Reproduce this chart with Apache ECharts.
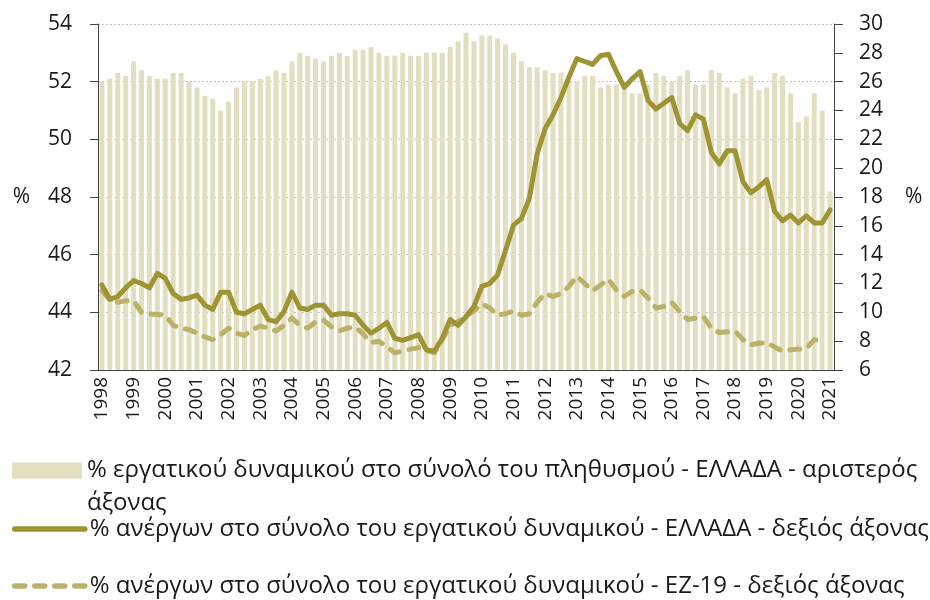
<!DOCTYPE html>
<html>
<head>
<meta charset="utf-8">
<script src="https://cdn.jsdelivr.net/npm/echarts@6/dist/echarts.min.js"></script>
<style>
  html, body { margin: 0; padding: 0; background: #fff; }
  #chart { width: 930px; height: 600px; }
</style>
</head>
<body>
<div id="chart"></div>
<script>
// τριμηνιαία στοιχεία 1998 Q1 - 2021 Q1
const years = [1998, 1999, 2000, 2001, 2002, 2003, 2004, 2005, 2006, 2007, 2008, 2009,
  2010, 2011, 2012, 2013, 2014, 2015, 2016, 2017, 2018, 2019, 2020, 2021]
const quarters = ['Q1', 'Q2', 'Q3', 'Q4']

// % εργατικού δυναμικού στο σύνολο του πληθυσμού - Ελλάδα (αριστερός άξονας)
const labourForceGR = [
  52.0, 52.1, 52.3, 52.2, 52.7, 52.4, 52.2, 52.1, 52.1, 52.3, 52.3, 52.0,
  51.8, 51.5, 51.4, 51.0, 51.3, 51.8, 52.0, 52.0, 52.1, 52.2, 52.4, 52.3,
  52.7, 53.0, 52.9, 52.8, 52.7, 52.9, 53.0, 52.9, 53.1, 53.1, 53.2, 53.0,
  52.9, 52.9, 53.0, 52.9, 52.9, 53.0, 53.0, 53.0, 53.2, 53.4, 53.7, 53.4,
  53.6, 53.6, 53.5, 53.3, 53.0, 52.7, 52.5, 52.5, 52.4, 52.3, 52.3, 52.0,
  52.0, 52.2, 52.2, 51.8, 51.9, 51.9, 52.0, 51.6, 51.6, 51.9, 52.3, 52.2,
  52.0, 52.2, 52.4, 51.9, 51.9, 52.4, 52.3, 51.8, 51.6, 52.1, 52.2, 51.7,
  51.8, 52.3, 52.2, 51.6, 50.6, 50.8, 51.6, 51.0, 48.2
]

// % ανέργων - Ελλάδα (δεξιός άξονας)
const unemploymentGR = [
  11.9, 10.9, 11.1, 11.7, 12.2, 12.0, 11.7, 12.7, 12.35, 11.3, 10.9, 11.0,
  11.2, 10.5, 10.2, 11.4, 11.4, 10.0, 9.9, 10.2, 10.5, 9.5, 9.35, 10.05,
  11.4, 10.3, 10.2, 10.5, 10.5, 9.8, 9.9, 9.9, 9.8, 9.1, 8.55, 8.9,
  9.3, 8.2, 8.05, 8.25, 8.45, 7.4, 7.3, 8.2, 9.5, 9.1, 9.7, 10.4,
  11.8, 12.0, 12.6, 14.3, 16.05, 16.5, 17.9, 21.0, 22.75, 23.7, 24.9, 26.3,
  27.6, 27.4, 27.2, 27.8, 27.9, 26.7, 25.6, 26.2, 26.7, 24.7, 24.1, 24.5,
  24.9, 23.1, 22.6, 23.7, 23.4, 21.1, 20.3, 21.2, 21.2, 19.05, 18.3, 18.7,
  19.2, 17.0, 16.35, 16.75, 16.2, 16.7, 16.2, 16.2, 17.1
]

// % ανέργων - ΕΖ-19 (δεξιός άξονας)
const unemploymentEZ = [
  11.5, 10.85, 10.7, 10.8, 10.8, 10.0, 9.9, 9.85, 9.8, 9.1, 8.9, 8.8,
  8.55, 8.3, 8.1, 8.45, 8.9, 8.55, 8.4, 8.8, 9.05, 8.9, 8.7, 9.1,
  9.6, 9.1, 8.9, 9.35, 9.45, 9.0, 8.7, 8.9, 9.0, 8.5, 7.9, 8.0,
  7.6, 7.2, 7.3, 7.45, 7.55, 7.35, 7.2, 8.1, 9.1, 9.35, 9.75, 10.1,
  10.6, 10.3, 9.8, 9.9, 10.1, 9.8, 9.9, 10.7, 11.3, 11.1, 11.3, 11.8,
  12.5, 12.0, 11.5, 11.9, 12.3, 11.55, 11.1, 11.45, 11.55, 11.0, 10.3, 10.4,
  10.7, 10.05, 9.5, 9.6, 9.7, 8.9, 8.6, 8.65, 8.7, 8.1, 7.75, 7.85,
  7.9, 7.6, 7.3, 7.4, 7.45, 7.5, 8.1, 8.0, null
]

const seriesNames = [
  '% εργατικού δυναμικού στο σύνολό του πληθυσμού - ΕΛΛΑΔΑ - αριστερός άξονας',
  '% ανέργων στο σύνολο του εργατικού δυναμικού - ΕΛΛΑΔΑ - δεξιός άξονας',
  '% ανέργων στο σύνολο του εργατικού δυναμικού - ΕΖ-19 - δεξιός άξονας'
]

const categories = []
years.forEach(y => quarters.forEach(q => categories.push(y + ' ' + q)))
categories.length = labourForceGR.length

const FONT = 'Open Sans'
const TEXT = '#1a1a1a'
const AXIS = '#444'

const chart = echarts.init(document.getElementById('chart'), null, { renderer: 'canvas' })

const legendBase = {
  orient: 'vertical',
  left: 12,
  padding: 0,
  itemWidth: 70,
  itemHeight: 16,
  itemGap: 0,
  selectedMode: false,
  itemStyle: { opacity: 0 },
  lineStyle: { width: 5.5, cap: 'round' },
  textStyle: { fontFamily: FONT, fontSize: 24, color: TEXT, lineHeight: 28 }
}

// η πρώτη ετικέτα σπάει σε δύο γραμμές, με το εικονίδιο στην πρώτη
const wrapFirst = name => {
  const cut = name.lastIndexOf(' ')
  return '\n' + name.slice(0, cut) + '\n' + name.slice(cut + 1)
}

const option = {
  animation: false,
  textStyle: { fontFamily: FONT },
  grid: { left: 98, right: 96, top: 24, bottom: 230, containLabel: false },
  legend: [
    Object.assign({}, legendBase, {
      top: 421,
      data: [{ name: seriesNames[0], icon: 'rect' }],
      itemStyle: {},
      formatter: wrapFirst,
      textStyle: { fontFamily: FONT, fontSize: 24, color: TEXT, lineHeight: 33 }
    }),
    Object.assign({}, legendBase, { top: 515, data: [seriesNames[1]] }),
    Object.assign({}, legendBase, { top: 572, data: [seriesNames[2]] })
  ],
  xAxis: {
    type: 'category',
    data: categories,
    boundaryGap: true,
    axisLine: { lineStyle: { color: AXIS, width: 1 } },
    axisTick: { interval: 1, length: 7, lineStyle: { color: AXIS } },
    axisLabel: {
      interval: 3,
      rotate: 90,
      margin: 7,
      fontSize: 19,
      color: TEXT,
      fontFamily: FONT,
      formatter: v => v.slice(0, 4)
    }
  },
  yAxis: [
    {
      type: 'value',
      min: 42,
      max: 54,
      interval: 2,
      name: '%',
      nameLocation: 'middle',
      nameRotate: 0,
      nameGap: 68,
      nameTextStyle: { fontSize: 21, color: TEXT, fontFamily: FONT, padding: [106, 0, 0, 0] },
      axisLine: { show: true, lineStyle: { color: AXIS } },
      axisTick: { show: true, length: 8, lineStyle: { color: AXIS } },
      axisLabel: { fontSize: 21, color: TEXT, margin: 26, fontFamily: FONT },
      splitLine: { show: true, lineStyle: { color: '#c4c4c4', type: [2, 2], width: 1 } }
    },
    {
      type: 'value',
      min: 6,
      max: 30,
      interval: 2,
      position: 'right',
      name: '%',
      nameLocation: 'middle',
      nameRotate: 0,
      nameGap: 71,
      nameTextStyle: { fontSize: 21, color: TEXT, fontFamily: FONT, padding: [106, 0, 0, 0] },
      axisLine: { show: true, lineStyle: { color: AXIS } },
      axisTick: { show: true, length: 9, lineStyle: { color: AXIS } },
      axisLabel: { fontSize: 21, color: TEXT, margin: 25, fontFamily: FONT },
      splitLine: { show: false }
    }
  ],
  series: [
    {
      name: seriesNames[0],
      type: 'bar',
      yAxisIndex: 0,
      data: labourForceGR,
      barWidth: 5,
      itemStyle: { color: '#e2dec0' },
      z: 1
    },
    {
      name: seriesNames[1],
      type: 'line',
      yAxisIndex: 1,
      data: unemploymentGR,
      symbol: 'none',
      lineStyle: { color: '#9f9434', width: 5, join: 'round', cap: 'round' },
      itemStyle: { color: '#9f9434' },
      z: 3
    },
    {
      name: seriesNames[2],
      type: 'line',
      yAxisIndex: 1,
      data: unemploymentEZ,
      symbol: 'none',
      lineStyle: { color: '#bbb168', width: 5, type: [10, 10], cap: 'round', join: 'round' },
      itemStyle: { color: '#bbb168' },
      z: 2
    }
  ]
}

chart.setOption(option)
</script>
</body>
</html>
